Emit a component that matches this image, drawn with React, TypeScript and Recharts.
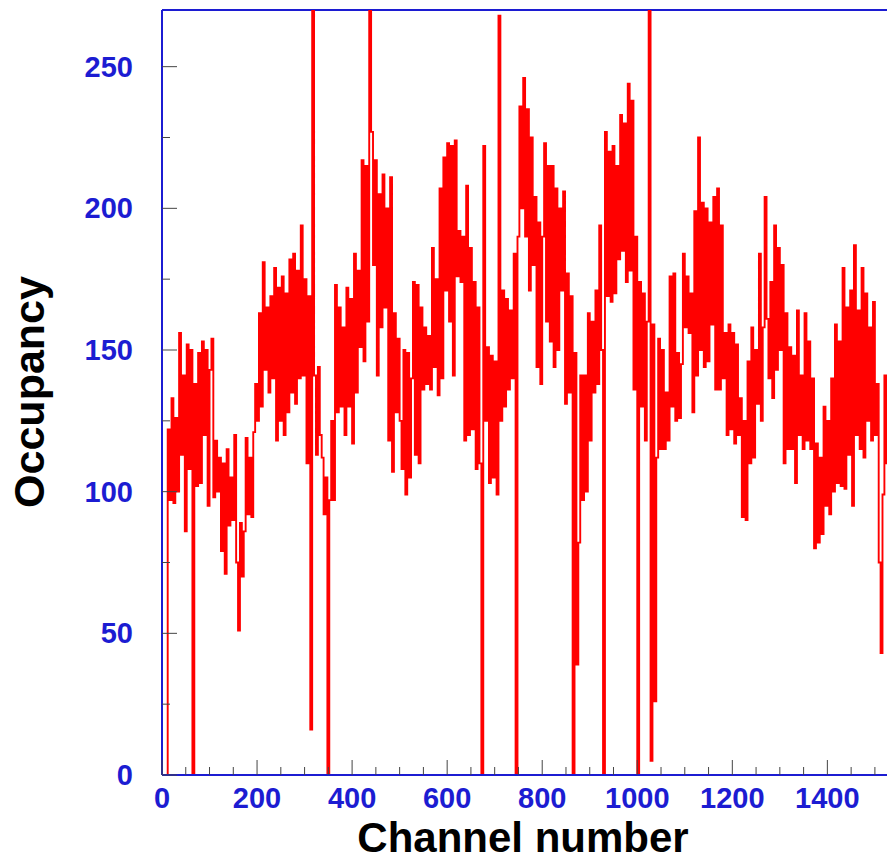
import { Label, Line, LineChart, ReferenceLine, XAxis, YAxis } from "recharts"

// occupancy per 4-channel bin (channels 0..1535)
const binWidth = 4
const occupancy = [
  0, 0, 0, 122, 97, 133, 96, 126, 100, 156, 113, 141, 86, 152, 108, 150,
  0, 138, 102, 149, 103, 153, 120, 150, 95, 143, 154, 98, 118, 100, 112, 79,
  110, 71, 115, 88, 105, 90, 120, 75, 51, 89, 70, 86, 119, 92, 112, 91,
  121, 138, 125, 163, 130, 181, 143, 165, 135, 169, 140, 179, 118, 172, 125, 176,
  120, 170, 128, 182, 135, 184, 131, 178, 140, 194, 141, 175, 110, 169, 16, 300,
  141, 113, 144, 120, 112, 92, 105, 0, 97, 125, 97, 173, 128, 165, 130, 158,
  120, 172, 130, 168, 117, 184, 135, 178, 151, 217, 146, 215, 160, 300, 227, 180,
  217, 141, 205, 158, 212, 165, 200, 118, 211, 107, 163, 128, 154, 125, 108, 150,
  99, 149, 105, 140, 174, 113, 173, 110, 165, 136, 158, 138, 155, 136, 186, 144,
  175, 134, 207, 140, 218, 171, 223, 160, 222, 141, 224, 176, 192, 174, 190, 118,
  208, 120, 186, 122, 174, 108, 165, 110, 0, 222, 125, 151, 103, 148, 105, 146,
  99, 268, 125, 171, 130, 168, 136, 164, 140, 184, 0, 190, 236, 200, 246, 190,
  235, 171, 225, 180, 204, 144, 195, 138, 190, 223, 160, 215, 153, 215, 144, 207,
  150, 200, 171, 206, 131, 177, 135, 169, 0, 149, 39, 82, 141, 97, 141, 100,
  163, 118, 160, 135, 171, 138, 194, 150, 0, 227, 169, 220, 167, 222, 170, 215,
  182, 233, 185, 230, 174, 244, 178, 238, 136, 190, 0, 174, 130, 170, 118, 160,
  300, 5, 159, 26, 112, 154, 115, 150, 115, 135, 118, 176, 130, 177, 125, 149,
  126, 145, 184, 158, 176, 156, 170, 128, 199, 141, 225, 150, 202, 144, 200, 146,
  195, 159, 204, 136, 207, 136, 194, 140, 156, 120, 159, 122, 156, 117, 152, 120,
  133, 91, 125, 90, 146, 110, 158, 112, 150, 131, 184, 125, 158, 204, 161, 140,
  174, 133, 194, 143, 186, 150, 180, 110, 163, 115, 151, 115, 148, 103, 164, 120,
  141, 115, 163, 118, 153, 115, 140, 80, 117, 82, 112, 85, 130, 95, 125, 92,
  140, 100, 159, 103, 153, 102, 179, 101, 165, 113, 171, 95, 187, 120, 164, 115,
  179, 112, 170, 125, 158, 118, 167, 120, 138, 75, 43, 99, 141, 110, 135, 120,
]

const xTicks = [
  0, 50, 100, 150, 200, 250, 300, 350, 400, 450, 500, 550, 600, 650, 700, 750,
  800, 850, 900, 950, 1000, 1050, 1100, 1150, 1200, 1250, 1300, 1350, 1400,
  1450, 1500,
]
const xLabels = [0, 200, 400, 600, 800, 1000, 1200, 1400]
const yTicks = [0, 25, 50, 75, 100, 125, 150, 175, 200, 225, 250]
const yLabels = [0, 50, 100, 150, 200, 250]

const data = occupancy.map((v, i) => ({ channel: i * binWidth, occupancy: v }))
// close the last bin
data.push({ channel: occupancy.length * binWidth, occupancy: occupancy[occupancy.length - 1] })

const BLUE = "#1c1cd2"
const FONT = "'Liberation Sans', Arial, Helvetica, sans-serif"

const YTick = ({ x, y, payload }: any) => {
  const major = yLabels.includes(payload.value)
  return (
    <g>
      <line x1={x} x2={x + (major ? 15 : 8)} y1={y} y2={y} stroke="#444" strokeWidth={1} />
      {major && (
        <text
          x={x - 29}
          y={y + 10}
          textAnchor="end"
          fontFamily={FONT}
          fontWeight="bold"
          fontSize={29}
          fill={BLUE}
        >
          {payload.value}
        </text>
      )}
    </g>
  )
}

const XTick = ({ x, y, payload }: any) => {
  const major = xLabels.includes(payload.value)
  return (
    <g>
      <line x1={x} x2={x} y1={y} y2={y - (major ? 15 : 8)} stroke="#444" strokeWidth={1} />
      {major && (
        <text
          x={x}
          y={y + 33}
          textAnchor="middle"
          fontFamily={FONT}
          fontWeight="bold"
          fontSize={29}
          fill={BLUE}
        >
          {payload.value}
        </text>
      )}
    </g>
  )
}

const XTitle = () => (
  <text x={523} y={852} textAnchor="middle" fontFamily={FONT} fontWeight="bold" fontSize={42} fill="#000">
    Channel number
  </text>
)

const YTitle = () => (
  <text
    x={0}
    y={0}
    transform="translate(44, 392) rotate(-90)"
    textAnchor="middle"
    fontFamily={FONT}
    fontWeight="bold"
    fontSize={43}
    fill="#000"
  >
    Occupancy
  </text>
)

export default function App() {
  return (
    <div
      style={{
        position: "absolute",
        left: 0,
        top: 0,
        width: 887,
        height: 861,
        overflow: "hidden",
        background: "#fff",
      }}
    >
      <LineChart width={900} height={861} data={data} margin={{ top: 10, right: 8, bottom: 0, left: 0 }}>
        <XAxis
          dataKey="channel"
          type="number"
          domain={[0, 1536]}
          ticks={xTicks}
          interval={0}
          height={86}
          tickSize={0}
          tickMargin={0}
          tick={(props) => <XTick {...props} />}
          axisLine={{ stroke: BLUE, strokeWidth: 2 }}
          allowDataOverflow
        >
          <Label content={XTitle} />
        </XAxis>
        <YAxis
          type="number"
          domain={[0, 270]}
          ticks={yTicks}
          interval={0}
          width={162}
          tickSize={0}
          tickMargin={0}
          tick={(props) => <YTick {...props} />}
          axisLine={{ stroke: BLUE, strokeWidth: 2 }}
          allowDataOverflow
        >
          <Label content={YTitle} />
        </YAxis>
        <ReferenceLine y={270} stroke={BLUE} strokeWidth={2} />
        <Line
          type="stepAfter"
          dataKey="occupancy"
          stroke="#ff0000"
          strokeWidth={1.9}
          dot={false}
          isAnimationActive={false}
        />
      </LineChart>
    </div>
  )
}
